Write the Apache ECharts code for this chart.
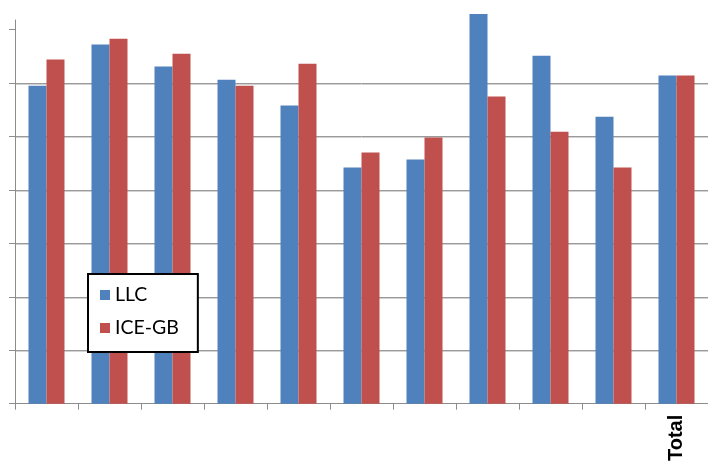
<!DOCTYPE html>
<html>
<head>
<meta charset="utf-8">
<script src="https://cdn.jsdelivr.net/npm/echarts@6/dist/echarts.min.js"></script>
<style>
html,body{margin:0;padding:0;background:#fff;}
#chart{width:708px;height:464px;}
</style>
</head>
<body>
<div id="chart"></div>
<script>
var categories = ['', '', '', '', '', '', '', '', '', '', 'Total'];
var llcValues = [5.95, 6.72, 6.31, 6.06, 5.58, 4.42, 4.57, 7.29, 6.51, 5.37, 6.14];
var iceValues = [6.44, 6.83, 6.55, 5.95, 6.36, 4.70, 4.98, 5.75, 5.09, 4.42, 6.14];
var seriesNames = ['LLC', 'ICE-GB'];
var yTicks = [0, 1, 2, 3, 4, 5, 6, 7];

var chart = echarts.init(document.getElementById('chart'), null, {renderer: 'canvas'});
chart.setOption({
  animation: false,
  backgroundColor: '#ffffff',
  grid: {left: 15, right: -3, top: 20, bottom: 59, containLabel: false},
  legend: {
    orient: 'vertical',
    left: 88,
    top: 274,
    data: seriesNames,
    itemWidth: 10,
    itemHeight: 10,
    itemGap: 13,
    padding: [11, 19, 14, 12],
    backgroundColor: '#ffffff',
    borderColor: '#000000',
    borderWidth: 2,
    borderRadius: 0,
    icon: 'rect',
    textStyle: {fontFamily: 'Lato', fontSize: 19.5, color: '#000000'}
  },
  xAxis: {
    type: 'category',
    data: categories,
    boundaryGap: true,
    axisLine: {lineStyle: {color: '#8c8c8c', width: 1}},
    axisTick: {show: true, length: 6, alignWithLabel: false, lineStyle: {color: '#8c8c8c'}},
    axisLabel: {
      interval: 0,
      rotate: 90,
      margin: 11,
      fontFamily: 'Liberation Sans',
      fontSize: 20,
      fontWeight: 'bold',
      color: '#000000',
      padding: [0, 0, 14, 0]
    },
    splitLine: {show: false}
  },
  yAxis: {
    type: 'value',
    min: 0,
    max: 7.18,
    interval: 1,
    axisLine: {show: true, lineStyle: {color: '#8c8c8c', width: 1}},
    axisTick: {show: true, inside: false, length: 6, customValues: yTicks, lineStyle: {color: '#8c8c8c'}},
    axisLabel: {show: false, customValues: yTicks},
    splitLine: {
      show: true,
      showMinLine: false,
      showMaxLine: false,
      lineStyle: {color: '#9a9a9a', width: 1, shadowColor: '#d2d2d2', shadowOffsetY: 1, shadowBlur: 0}
    }
  },
  series: [
    {
      name: seriesNames[0],
      type: 'bar',
      data: llcValues,
      barWidth: 18,
      barGap: '0%',
      clip: false,
      itemStyle: {color: '#4f81bd'}
    },
    {
      name: seriesNames[1],
      type: 'bar',
      data: iceValues,
      barWidth: 18,
      barGap: '0%',
      clip: false,
      itemStyle: {color: '#c0504d'}
    }
  ]
});
</script>
</body>
</html>
